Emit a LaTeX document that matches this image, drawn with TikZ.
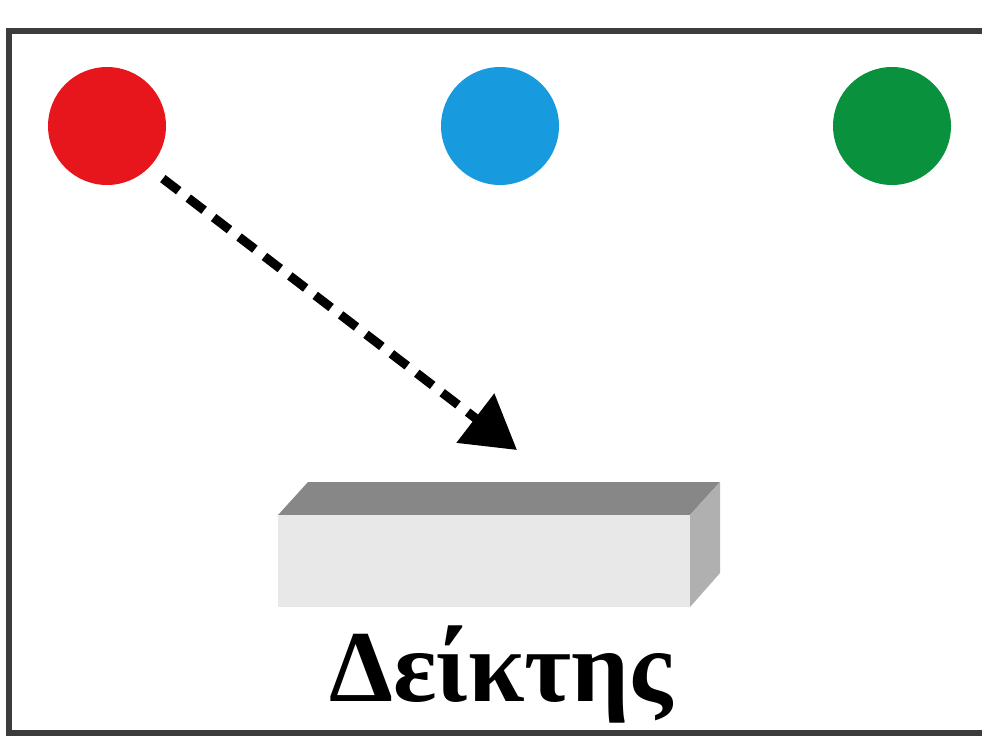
\documentclass[tikz,border=0pt]{standalone}
\usepackage{fontspec}
\setmainfont{Liberation Serif}
\usetikzlibrary{arrows.meta}
\definecolor{dotred}{RGB}{230,22,28}
\definecolor{dotblue}{RGB}{24,154,222}
\definecolor{dotgreen}{RGB}{10,145,62}
\definecolor{frameline}{RGB}{60,60,60}
\tikzset{
  dot/.style={circle, minimum size=2.36cm, inner sep=0pt},
  pointer/.style={line width=0.18cm, dash pattern=on 0.4cm off 0.24cm,
    shorten <=0.35cm, -{Triangle[length=1.05cm,width=1.2cm]}},
}
\begin{document}
\begin{tikzpicture}[x=0.02cm, y=-0.02cm]
  \useasboundingbox (0,0) rectangle (982,741);
  % Frame (open on the right)
  \draw[frameline, line width=0.11cm] (982,31) -- (9,31) -- (9,733) -- (982,733);

  % Coloured dots
  \node[dot, fill=dotred] (red) at (107,126) {};
  \node[dot, fill=dotblue] (blue) at (500,126) {};
  \node[dot, fill=dotgreen] (green) at (892,126) {};

  % Dashed arrow
  \coordinate (tip) at (517,450);
  \draw[pointer] (red.-45) -- (tip);

  % Bar (3D)
  \fill[black!47] (278,515) -- (308,482) -- (720,482) -- (690,515) -- cycle;
  \fill[black!9] (278,515) rectangle (690,607);
  \fill[black!31] (690,515) -- (720,482) -- (720,573) -- (690,607) -- cycle;

  % Label
  \node[font=\bfseries\fontsize{58}{58}\selectfont, anchor=base] (label) at (501,701) {Δείκτης};
\end{tikzpicture}
\end{document}
